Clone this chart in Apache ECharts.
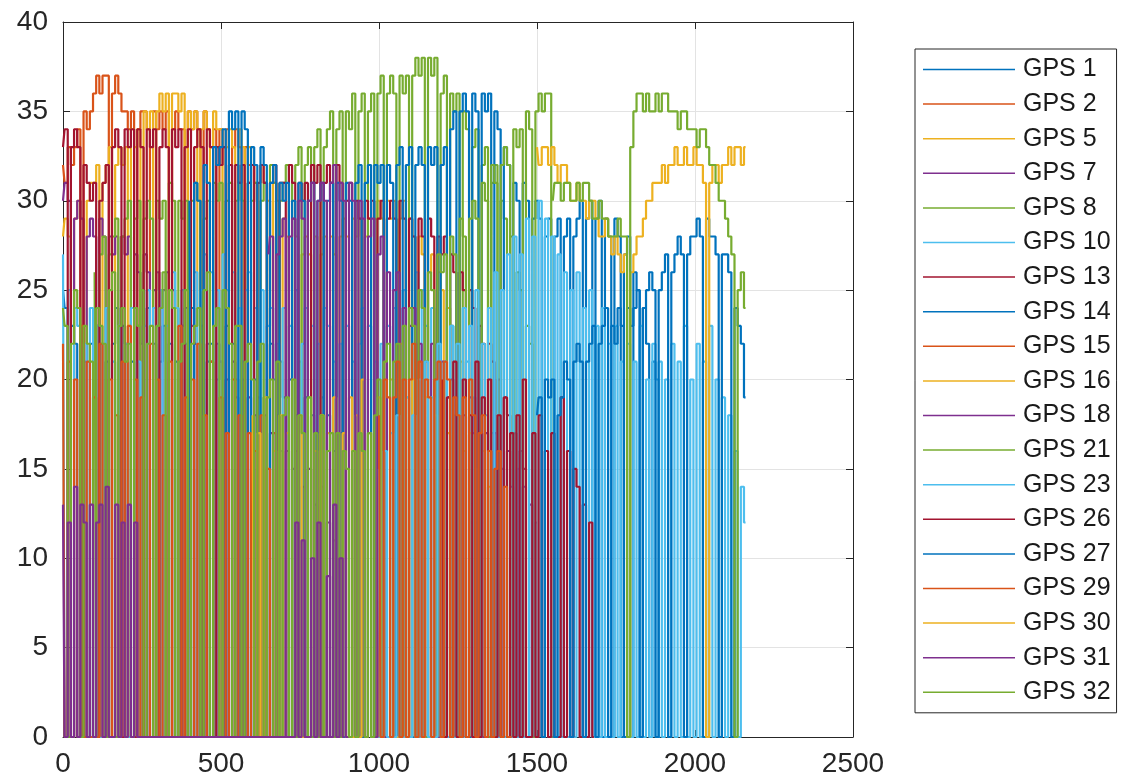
<!DOCTYPE html>
<html>
<head>
<meta charset="utf-8">
<script src="https://cdn.jsdelivr.net/npm/echarts@6/dist/echarts.min.js"></script>
<style>
  html, body { margin: 0; padding: 0; background: #fff; }
  #chart { width: 1121px; height: 782px; }
</style>
</head>
<body>
<div id="chart"></div>
<script>
// values are read every 10 samples, each series from its first visible sample
const sampleStep = 10;

const xTicks = [0, 500, 1000, 1500, 2000, 2500];
const yTicks = [0, 5, 10, 15, 20, 25, 30, 35, 40];

const names = ['GPS 1','GPS 2','GPS 5','GPS 7','GPS 8','GPS 10','GPS 13','GPS 14','GPS 15','GPS 16',
  'GPS 18','GPS 21','GPS 23','GPS 26','GPS 27','GPS 29','GPS 30','GPS 31','GPS 32'];

// first sample of each series, same order as names
const startSample = [0, 0, 0, 0, 100, 0, 0, 400, 0, 600, 650, 0, 1000, 1200, 1500, 1000, 1500, 0, 1550];

const gps1 = [
  25,24,0,23,22,0,23,21,0,22,
  0,23,22,0,21,0,22,24,0,23,
  22,0,21,0,23,22,0,24,0,22,
  0,21,23,0,22,0,21,0,23,22,
  0,24,22,0,23,0,21,22,0,20,
  21,0,23,0,22,20,0,21,0,22,
  0,20,21,0,19,0,22,20,0,21,
  19,0,20,0,18,21,0,19,0,18,
  0,17,19,0,18,0,16,0,17,0];
const gps2 = [
  32,31,33,32,33,34,0,35,34,35,
  36,37,36,37,37,0,36,37,36,35,
  35,34,35,0,34,35,35,34,0,35,
  34,35,34,35,0,34,35,34,34,0,
  35,34,35,34,0,35,34,33,34,0,
  34,33,34,0,33,34,33,0,33,32,
  0];
const gps5 = [
  28,29,28,0,29,30,29,0,30,31,
  31,32,0,31,32,33,0,32,33,32,
  33,0,34,33,34,0,35,34,35,0,
  35,36,35,36,0,36,36,35,36,0,
  35,34,35,0,34,35,34,0,35,34,
  34,0,33,34,33,0,34,33,0,33,
  32,31,0,32,31,30,0,31,30,0,
  29,28,0,29,28,0,27,28,27,0,
  28,0,27,28,0,28,27,0,28,29,
  28,0,29,28,29,0,28,29,0,29,
  30,29,0,30,29,30,0,29,30,0,
  29,28,0,28,27,0,26,27,0,26,
  25,0,24,23,0,22,21,0];
const gps7 = [
  30,31,30,0,29,30,29,0,28,29,
  28,0,29,28,0,28,27,28,0,28,
  27,28,0,27,26,0,27,26,0,25,
  26,0,25,26,0,25,24,0,23,24,
  0,23,22,0,23,0,22,21,0,22,
  21,0,20,0,21,19,0,20,0,19,
  0,18,19,0,18,0,17,0,18,16,
  0,16,0,15,16,0,14,0,15,0,
  13,0,14,0,12,0,11,0,10,0];
const gps8 = [
  26,0,27,28,0,27,28,29,0,28,
  29,30,0,29,30,0,29,30,29,0,
  30,29,30,0,31,30,0,30,29,30,
  0,30,31,30,0,29,30,0,31,30,
  31,0,30,31,0,30,31,30,0,31,
  30,31,0,30,31,0,32,31,0,30,
  31,32,0,31,32,33,0,32,33,0,
  33,34,0,33,34,35,0,34,35,0,
  35,34,36,0,35,36,0,35,36,0,
  36,37,0,36,37,36,0,37,36,37,
  0,37,38,37,38,0,38,37,38,0,
  36,37,0,36,35,36,0,35,34,0,
  33,34,0,32,33,0,31,32,0,30,
  29,0,28,0,26,25,0,23,22,0];
const gps10 = [
  27,0,25,0,24,23,0,22,0,24,
  0,23,0,22,24,0,21,0,23,0,
  22,0,24,0,21,0,23,25,0,24,
  0,25,0,23,0,26,24,0,25,0,
  24,0,26,0,25,27,0,26,0,25,
  0,27,25,0,26,0,24,0,25,26,
  0,24,0,25,0,23,24,0,22,0,
  24,0,23,0,25,0,22,24,0,23,
  0,22,0,24,23,0,21,0,22,0,
  23,0,21,0,22,24,0,23,0,21,
  0,22,0,23,0,24,22,0,25,0,
  24,0,26,0,25,23,0,24,0,22,
  0,21,0,23,0,22,20,0,21,0,
  19,0,20,0,18,0,17,0,0,0];
const gps13 = [
  33,34,0,33,34,33,0,32,31,30,
  31,0,30,31,32,0,33,34,33,0,
  34,33,34,0,34,33,0,34,33,34,
  0,33,34,33,0,34,33,34,0,33,
  34,0,33,34,33,0,34,33,0,33,
  32,33,0,32,0,32,31,32,0,31,
  32,0,31,32,31,0,31,32,0,31,
  31,0,32,31,0,31,30,31,0,32,
  31,32,0,31,32,31,0,32,31,0,
  30,31,0,30,29,0,30,29,30,0,
  29,30,0,29,30,29,0,30,29,0,
  29,28,0,29,28,0,29,28,0,28,
  27,28,0,27,26,0,26,25,0,25,
  24,0,23,22,0,22,21,0,20,0,
  19,18,0,17,0,16,15,0];
const gps14 = [
  30,0,31,30,0,32,31,0,33,32,
  33,34,0,35,34,35,0,35,34,0,
  33,32,0,33,32,0,31,32,0,31,
  30,31,0,30,0,31,30,0,30,31,
  0,30,31,0,30,31,0,31,30,0,
  31,30,0,31,32,0,31,32,0,32,
  31,32,0,32,31,0,32,33,0,32,
  33,0,32,33,32,0,33,32,33,0,
  32,33,0,34,35,0,35,36,35,0,
  36,35,0,36,35,36,0,35,34,0,
  33,32,0,31,30,0,31,30,0,29,
  30,29,0,28,29,0,28,29,0,28,
  29,0,28,29,30,0,29,30,0,29,
  30,0,29,28,0,29,28,0,27,28,
  0,26,25,0,24,22,0,21,20,0];
const gps15 = [
  22,0,21,0,20,0,23,0,21,0,
  19,0,22,0,0,20,0,18,0,21,
  0,23,0,20,0,19,0,0,22,0,
  20,0,18,0,21,0,0,23,0,19,
  0,20,0,22,0,18,0,21,0,0,
  19,0,17,0,20,0,18,0,0,17,
  0,16,0,18,0,15,0,17,0,0];
const gps16 = [
  18,0,17,0,19,0,0,16,0,18,
  0,17,0,20,0,18,0,0,19,0,
  16,0,18,0,17,0,19,0,0,17,
  0,19,0,18,0,20,0,17,0,0,
  19,0,21,0,20,0,0,22,0,19,
  0,20,0,21,0,19,0,0,18,0,
  19,0,17,0,18,0,0,16,0,17,
  0,15,0,16,0,14,0,0,13,0];
const gps18 = [
  27,28,0,27,28,29,0,28,29,0,
  30,29,0,30,31,0,30,31,30,0,
  31,32,0,31,30,0,31,30,0,30,
  29,0,28,29,0,27,28,0,26,0,
  25,26,0,24,0,23,24,0,22,0,
  21,0,22,20,0,21,0,19,20,0,
  19,0,18,0,19,17,0,18,0,17,
  16,0,17,0,15,0,16,14,0,15,
  0,14,0,13,0,12];
const gps21 = [
  24,23,0,22,25,24,0,23,22,21,
  0,24,23,22,0,25,26,0,23,24,
  21,22,0,24,23,25,0,22,23,0,
  23,24,26,0,25,24,0,21,22,25,
  0,22,23,24,0,25,26,0,23,24,
  0,25,24,22,0,23,23,0,21,22,
  20,0,21,22,0,19,20,0,21,0,
  18,19,0,20,0,18,17,0,19,0,
  17,0,18,0,16,17,0,17,0,16,
  15,0,16,0,17,16,0,17,0,18,
  20,0,21,22,0,21,22,0,23,0,
  24,23,0,25,24,0,26,25,0,27,
  26,27,0,28,27,0,29,28,0,29,
  30,29,0,31,30,0,32,31,0,32,
  33,32,0,34,33,34,0,35,34,0,
  35,36,35,36,36,0];
const gps23 = [
  15,0,16,0,17,0,18,0,0,19,
  0,18,0,20,0,21,0,19,0,22,
  0,21,0,23,0,22,0,24,0,23,
  0,25,0,22,0,24,0,26,0,25,
  0,27,0,28,0,27,0,29,0,28,
  0,30,0,29,0,28,0,27,0,26,
  0,25,0,26,0,24,0,25,0,23,
  0,24,0,22,0,23,0,21,0,22,
  0,21,0,23,0,20,0,22,0,21,
  0,20,0,22,0,21,0,23,0,20,
  0,22,0,21,0,23,0,20,0,19,
  0,18,0,16,0,14,12];
const gps26 = [
  20,0,19,0,21,0,0,20,0,18,
  0,21,0,19,0,20,0,0,18,0,
  19,0,17,0,18,0,20,0,0,17,
  0,18,0,16,0,17,0,0,19,0,
  16,0,15,14,0,13,0,12,0];
const gps27 = [
  18,19,0,20,19,20,0,18,19,21,
  20,0,21,22,21,0,21,22,23,0,
  22,23,24,0,23,22,24,23,0,24,
  23,24,25,0,24,25,26,25,0,25,
  26,27,0,26,27,28,27,0,27,28,
  28,29,28,0,29,28,28,27,0,27,
  27,26,0,24,23,22,19];
const gps29 = [
  18,0,20,19,0,19,21,0,20,0,
  20,22,0,21,0,20,19,0,20,21,
  0,21,20,0,19,18,0,19,0,20,
  18,0,17,18,0,16,0,15,16,0,
  14,0,0];
const gps30 = [
  33,32,33,33,32,33,32,31,32,32,
  31,30,30,31,30,30,29,30,30,29,
  28,28,29,28,27,28,27,26,27,0,
  26,27,28,28,29,30,30,31,31,31,
  32,31,32,32,33,32,32,33,32,32,
  33,32,32,31,0,31,32,32,31,32,
  32,33,32,33,33,32,33];
const gps31 = [
  13,0,12,0,14,0,13,12,0,13,
  0,12,13,0,14,0,0,13,0,12,
  0,13,0,12,0,0,0,0,0,0,
  0,0,0,0,0,0,0,0,0,0,
  0,0,0,0,0,0,0,0,0,0,
  0,0,0,0,0,0,0,0,0,0,
  0,0,0,0,0,0,0,0,0,0,
  0,0,0,0,12,0,11,0,0,10,
  0,12,0,0,9,0,13,0,10,0];
const gps32 = [
  30,31,31,30,31,31,30,30,31,30,
  31,31,30,29,29,30,29,29,28,28,
  28,29,28,28,0,33,35,36,36,35,
  36,35,35,36,35,36,36,35,35,35,
  34,35,35,34,34,34,33,34,34,33,
  32,32,31,30,30,29,28,27,0,25,
  26,24];

const values = [gps1, gps2, gps5, gps7, gps8, gps10, gps13, gps14, gps15, gps16,
  gps18, gps21, gps23, gps26, gps27, gps29, gps30, gps31, gps32];

// matlab default line colours
const colors = ['#0072BD', '#D95319', '#EDB120', '#7E2F8E', '#77AC30', '#4DBEEE', '#A2142F'];

const axisColor = '#262626';
const font = 'Liberation Sans, Arial, sans-serif';

const chart = echarts.init(document.getElementById('chart'), null, { renderer: 'canvas' });

const series = names.map((name, i) => ({
  name: name,
  type: 'line',
  step: 'middle',
  showSymbol: false,
  symbol: 'none',
  color: colors[i % colors.length],
  lineStyle: { width: 2.2 },
  data: values[i].map((v, k) => [startSample[i] + k * sampleStep, v])
}));

const xBase = {
  type: 'value',
  min: xTicks[0],
  max: xTicks[xTicks.length - 1],
  interval: xTicks[1] - xTicks[0],
  axisLine: { show: true, onZero: false, lineStyle: { color: axisColor, width: 1 } },
  axisTick: { show: true, inside: true, length: 7, lineStyle: { color: axisColor } }
};
const yBase = {
  type: 'value',
  min: yTicks[0],
  max: yTicks[yTicks.length - 1],
  interval: yTicks[1] - yTicks[0],
  axisLine: { show: true, onZero: false, lineStyle: { color: axisColor, width: 1 } },
  axisTick: { show: true, inside: true, length: 7, lineStyle: { color: axisColor } }
};

const option = {
  backgroundColor: '#ffffff',
  animation: false,
  grid: { left: 63, right: 268, top: 22, bottom: 45, containLabel: false },
  legend: {
    orient: 'vertical',
    left: 915,
    top: 49,
    data: names,
    icon: 'rect',
    itemWidth: 92,
    itemHeight: 1.5,
    itemGap: 9.6,
    padding: [8, 6, 8, 8],
    borderColor: axisColor,
    borderWidth: 1,
    backgroundColor: '#ffffff',
    textStyle: { fontFamily: font, fontSize: 25, lineHeight: 25, color: '#1a1a1a', padding: [0, 0, 0, 3] }
  },
  xAxis: [
    Object.assign({}, xBase, {
      position: 'bottom',
      splitLine: { show: true, lineStyle: { color: '#e3e3e3', width: 1 } },
      axisLabel: { fontFamily: font, fontSize: 28, color: axisColor, margin: 13, formatter: v => String(v) }
    }),
    Object.assign({}, xBase, {
      position: 'top',
      splitLine: { show: false },
      axisLabel: { show: false }
    })
  ],
  yAxis: [
    Object.assign({}, yBase, {
      position: 'left',
      splitLine: { show: true, lineStyle: { color: '#e3e3e3', width: 1 } },
      axisLabel: { fontFamily: font, fontSize: 28, color: axisColor, margin: 15 }
    }),
    Object.assign({}, yBase, {
      position: 'right',
      splitLine: { show: false },
      axisLabel: { show: false }
    })
  ],
  series: series
};

chart.setOption(option);
</script>
</body>
</html>
